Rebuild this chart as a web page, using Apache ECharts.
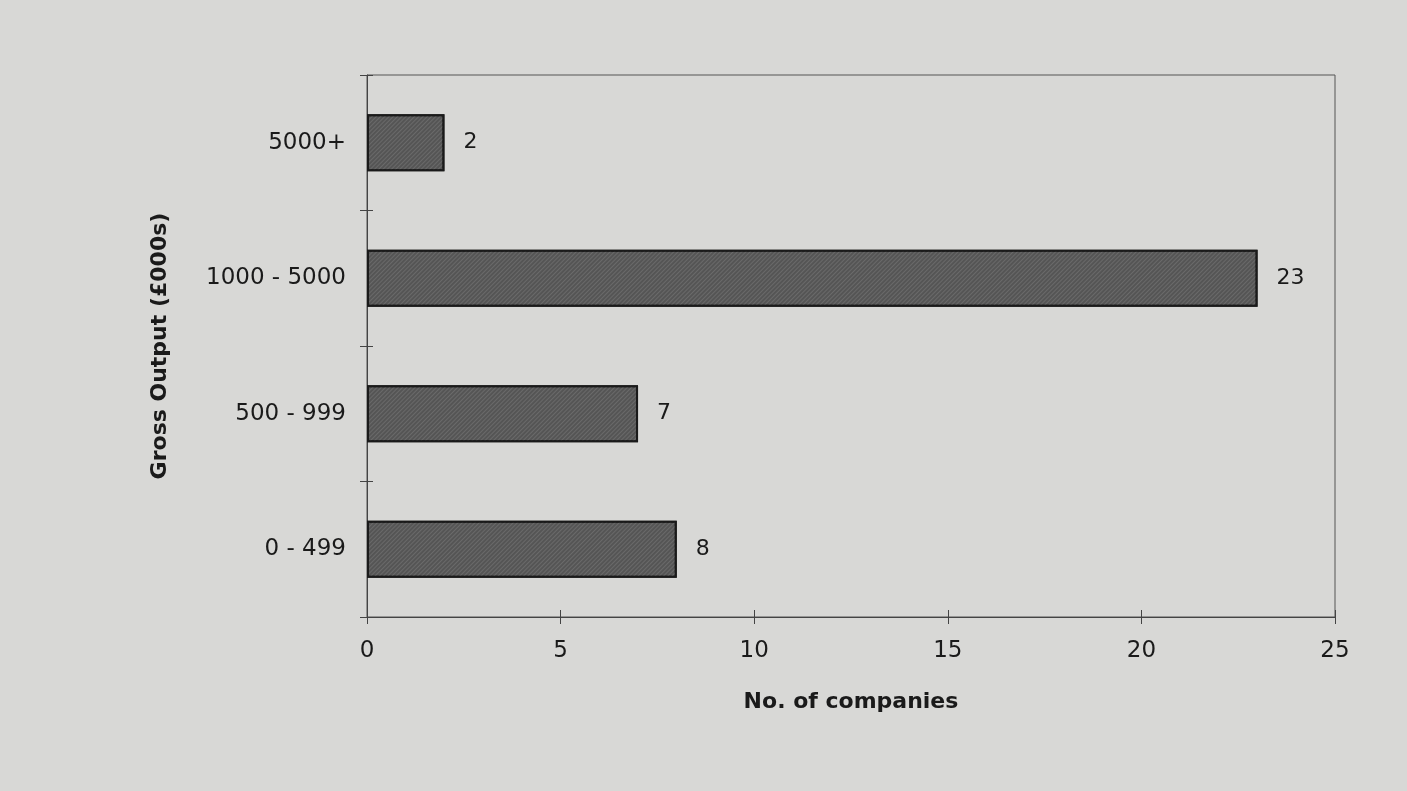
<!DOCTYPE html>
<html><head><meta charset="utf-8">
<script src="https://cdn.jsdelivr.net/npm/echarts@6/dist/echarts.min.js"></script>
<style>html,body{margin:0;padding:0;background:#d8d8d6;}#c{width:1407px;height:791px;}</style>
</head><body><div id="c"></div>
<script>
const categories = ['0 - 499', '500 - 999', '1000 - 5000', '5000+'];
const companies = [8, 7, 23, 2];
const xTicks = [0, 5, 10, 15, 20, 25];

const chart = echarts.init(document.getElementById('c'));
const font = '"DejaVu Sans", Verdana, sans-serif';
chart.setOption({
  backgroundColor: '#d8d8d6',
  animation: false,
  grid: {left: 367, right: 72, top: 75, bottom: 174, show: true, borderColor: '#555', borderWidth: 1, backgroundColor: 'transparent'},
  xAxis: [{
    type: 'value', min: xTicks[0], max: xTicks[xTicks.length - 1], interval: 5,
    name: 'No. of companies', nameLocation: 'middle', nameGap: 74,
    nameTextStyle: {fontFamily: font, fontSize: 22, fontWeight: 'bold', color: '#1a1a1a'},
    axisLine: {show: true, lineStyle: {color: '#444', width: 1}},
    axisTick: {show: true, length: 7, lineStyle: {color: '#444'}},
    axisLabel: {fontFamily: font, fontSize: 23, color: '#1a1a1a', margin: 23},
    splitLine: {show: false}
  }, {
    type: 'value', min: xTicks[0], max: xTicks[xTicks.length - 1], interval: 5, position: 'bottom',
    axisLine: {show: false}, axisTick: {show: true, inside: true, length: 7, lineStyle: {color: '#444'}},
    axisLabel: {show: false}, splitLine: {show: false}
  }],
  yAxis: [{
    type: 'category', data: categories,
    name: 'Gross Output (£000s)', nameLocation: 'middle', nameGap: 196, nameRotate: 90,
    nameTextStyle: {fontFamily: font, fontSize: 22, fontWeight: 'bold', color: '#1a1a1a'},
    axisLine: {show: true, lineStyle: {color: '#444', width: 1}},
    axisTick: {show: true, length: 7, lineStyle: {color: '#444'}},
    axisLabel: {fontFamily: font, fontSize: 23, color: '#1a1a1a', margin: 21},
    splitLine: {show: false}
  }, {
    type: 'category', data: categories, position: 'left',
    axisLine: {show: false}, axisTick: {show: true, inside: true, length: 6, lineStyle: {color: '#444'}},
    axisLabel: {show: false}, splitLine: {show: false}
  }],
  series: [{
    type: 'bar', data: companies, xAxisIndex: 0, yAxisIndex: 0,
    barCategoryGap: '58%',
    itemStyle: {
      color: '#555555', borderColor: '#1a1a1a', borderWidth: 2,
      decal: {symbol: 'rect', dashArrayX: [1, 0], dashArrayY: [1, 2], rotation: -Math.PI / 4, color: 'rgba(130,130,130,0.45)', symbolSize: 1}
    },
    label: {show: true, position: 'right', distance: 19, fontFamily: font, fontSize: 22, color: '#1a1a1a'}
  }]
});
</script></body></html>
